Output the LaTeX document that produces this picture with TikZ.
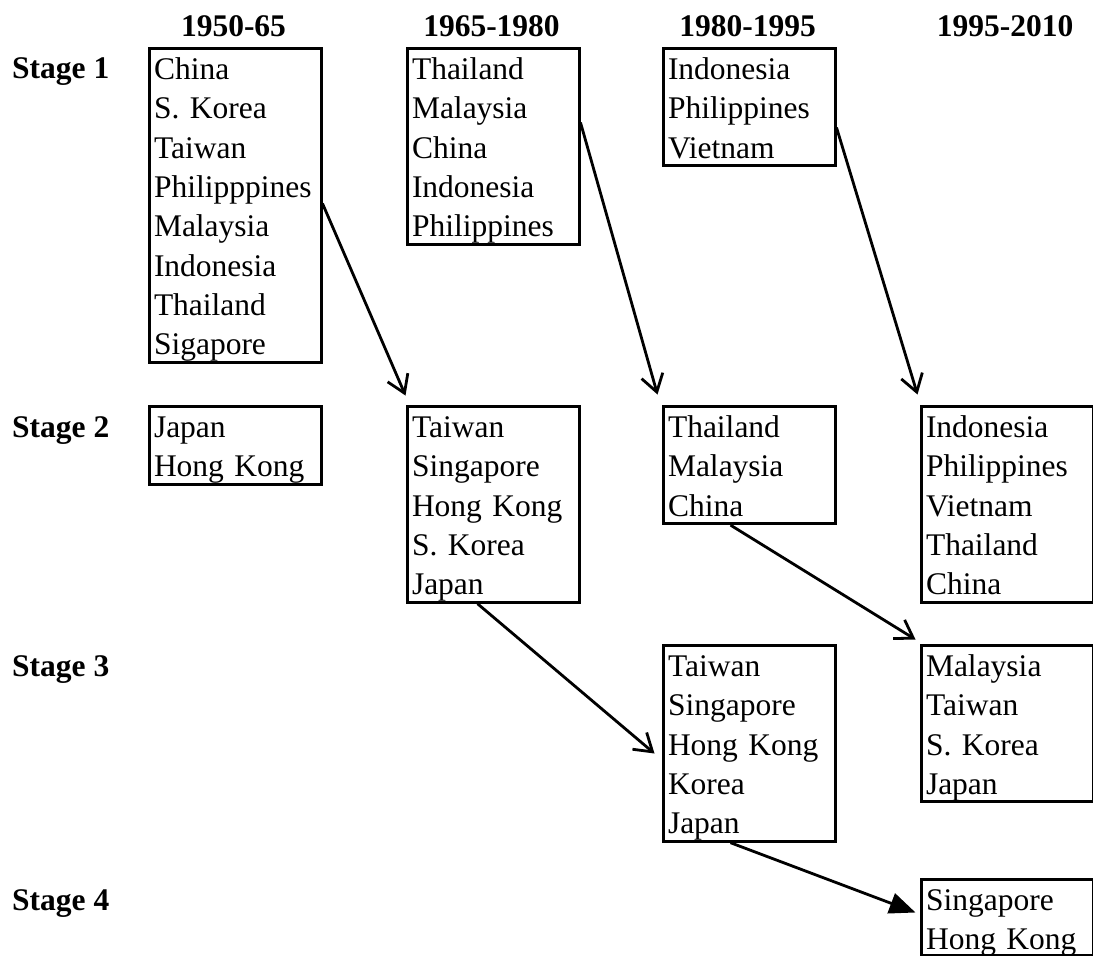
\documentclass[tikz,border=0pt]{standalone}
\usepackage{fontspec}
\setmainfont{Liberation Serif}
\usetikzlibrary{arrows.meta,calc}
\begin{document}
\begin{tikzpicture}[x=1pt,y=-1pt,
  box/.style={draw, line width=3pt, anchor=north west, inner xsep=5pt, inner ysep=0pt,
    text width=162pt, align=left, font=\fontsize{31.5}{39.3}\selectfont, text height=31.5pt},
  hdr/.style={font=\fontsize{31.5}{38}\selectfont\bfseries, anchor=base, inner sep=0pt},
  stg/.style={font=\fontsize{31.5}{38}\selectfont\bfseries, anchor=base west, inner sep=0pt},
  conn/.style={line width=2.8pt, -{Straight Barb[length=17pt,width=22pt]}},
  connf/.style={line width=2.8pt, -{Triangle[length=26pt,width=21pt]}}]
\useasboundingbox (0,0) rectangle (1093,956);

% column headers
\node[hdr] (h1) at (233.5,36) {1950-65};
\node[hdr] (h2) at (491.5,36) {1965-1980};
\node[hdr] (h3) at (747.5,36) {1980-1995};
\node[hdr] (h4) at (1005,36) {1995-2010};

% stage labels
\node[stg] (s1) at (12,78) {Stage 1};
\node[stg] (s2) at (12,437) {Stage 2};
\node[stg] (s3) at (12,676) {Stage 3};
\node[stg] (s4) at (12,910) {Stage 4};

% boxes
\node[box, text depth=282.6pt] (a1) at (147.5,46.5)
  {China\\S. Korea\\Taiwan\\Philipppines\\Malaysia\\Indonesia\\Thailand\\Sigapore};
\node[box, text depth=46.8pt] (a2) at (147.5,404.5) {Japan\\Hong Kong};

\node[box, text depth=164.7pt] (b1) at (405.5,46.5)
  {Thailand\\Malaysia\\China\\Indonesia\\Philippines};
\node[box, text depth=164.7pt] (b2) at (405.5,404.5)
  {Taiwan\\Singapore\\Hong Kong\\S. Korea\\Japan};

\node[box, text depth=86.1pt] (c1) at (661.5,46.5) {Indonesia\\Philippines\\Vietnam};
\node[box, text depth=86.1pt] (c2) at (661.5,404.5) {Thailand\\Malaysia\\China};
\node[box, text depth=164.7pt] (c3) at (661.5,643.5)
  {Taiwan\\Singapore\\Hong Kong\\Korea\\Japan};

\node[box, text depth=164.7pt] (d2) at (919.5,404.5)
  {Indonesia\\Philippines\\Vietnam\\Thailand\\China};
\node[box, text depth=125.4pt] (d3) at (919.5,643.5)
  {Malaysia\\Taiwan\\S. Korea\\Japan};
\node[box, text depth=44.8pt] (d4) at (919.5,877.5) {Singapore\\Hong Kong};

% connectors
\draw[conn] ([yshift=-157pt]a1.north east) -- ([yshift=9pt]b2.north west);
\draw[conn] ([yshift=-76pt]b1.north east) -- ([xshift=-4pt,yshift=10pt]c2.north west);
\draw[conn] ([yshift=-81pt]c1.north east) -- ([xshift=-2pt,yshift=10pt]d2.north west);
\draw[conn] ([xshift=72pt]b2.south west) -- ([xshift=-7pt,yshift=-110pt]c3.north west);
\draw[conn] ([xshift=69pt]c2.south west) -- ([xshift=-4pt,yshift=4pt]d3.north west);
\draw[connf] ([xshift=69pt]c3.south west) -- ([xshift=-4pt,yshift=-35pt]d4.north west);
\end{tikzpicture}
\end{document}
